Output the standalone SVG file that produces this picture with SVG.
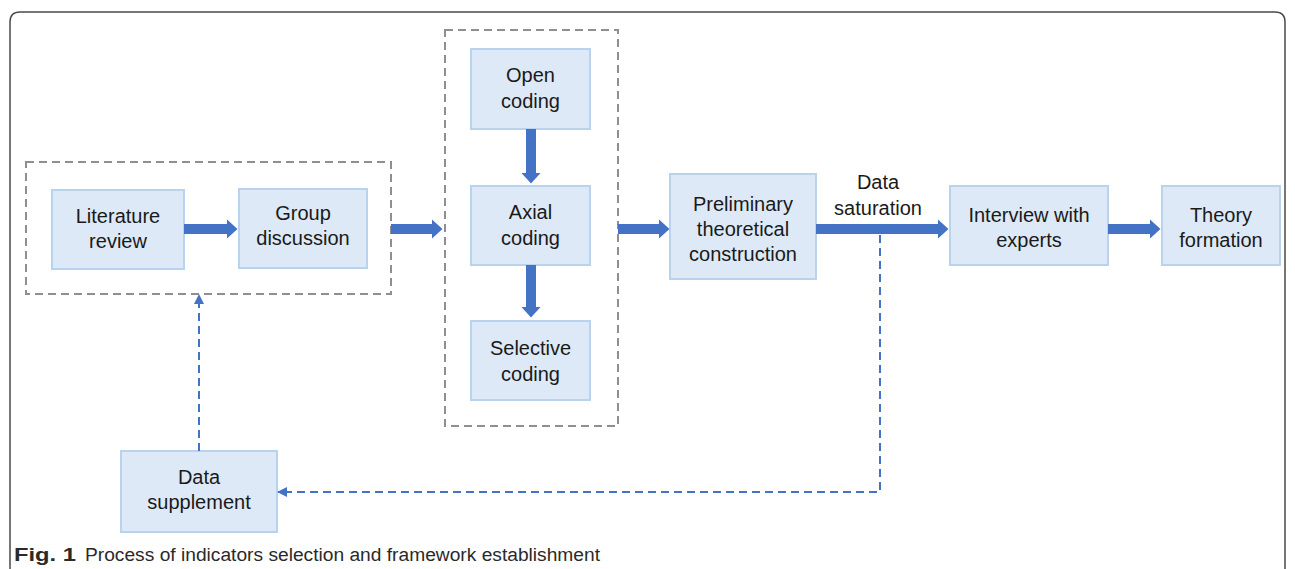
<svg xmlns="http://www.w3.org/2000/svg" width="1295" height="569" viewBox="0 0 1295 569">
<style>
.frame{fill:none;stroke:#4a4a4a;stroke-width:1.5}
.group{fill:none;stroke:#8f8f8f;stroke-width:2;stroke-dasharray:8 5}
.box{fill:#dde9f6;stroke:#b9d3ef;stroke-width:2}
.t{font-family:"Liberation Sans",Arial,sans-serif;font-size:20px;fill:#1a1a1a;text-anchor:middle}
.thick{stroke:#4472c4;stroke-width:10;fill:none}
.dash{stroke:#4472c4;stroke-width:2;fill:none;stroke-dasharray:8 5}
.cap{font-family:"Liberation Sans",Arial,sans-serif;font-size:18px;fill:#2a2a2a}
</style>
<defs>
<marker id="big" markerUnits="userSpaceOnUse" markerWidth="12" markerHeight="22" viewBox="0 0 12 22" refX="0.5" refY="11" orient="auto">
<path d="M0,1 L11,11 L0,21 Z" fill="#4472c4"/>
</marker>
<marker id="small" markerUnits="userSpaceOnUse" markerWidth="10" markerHeight="10" viewBox="0 0 10 10" refX="9" refY="5" orient="auto">
<path d="M0,0 L10,5 L0,10 Z" fill="#4472c4"/>
</marker>
</defs>
<rect width="1295" height="569" fill="#ffffff"/>
<path class="frame" d="M10,569 V22 Q10,12 20,12 H1275 Q1285,12 1285,22 V569"/>

<g id="group-left"><rect class="group" x="26" y="162" width="365" height="132"/></g>
<g id="group-coding"><rect class="group" x="445" y="30" width="173" height="396"/></g>

<g id="literature-review"><rect class="box" x="52" y="190" width="132" height="79"/>
<text class="t" x="118" y="222.5">Literature</text><text class="t" x="118" y="248">review</text></g>
<g id="group-discussion"><rect class="box" x="239" y="189" width="128" height="79"/>
<text class="t" x="303" y="219.5">Group</text><text class="t" x="303" y="245">discussion</text></g>
<g id="open-coding"><rect class="box" x="471" y="49" width="119" height="80"/>
<text class="t" x="530.5" y="82">Open</text><text class="t" x="530.5" y="108">coding</text></g>
<g id="axial-coding"><rect class="box" x="471" y="186" width="119" height="79"/>
<text class="t" x="530.5" y="218.5">Axial</text><text class="t" x="530.5" y="245">coding</text></g>
<g id="selective-coding"><rect class="box" x="471" y="321" width="119" height="79"/>
<text class="t" x="530.5" y="355">Selective</text><text class="t" x="530.5" y="381">coding</text></g>
<g id="preliminary"><rect class="box" x="670" y="174" width="146" height="105"/>
<text class="t" x="743" y="210.5">Preliminary</text><text class="t" x="743" y="236">theoretical</text><text class="t" x="743" y="260.5">construction</text></g>
<g id="interview"><rect class="box" x="950" y="186" width="158" height="79"/>
<text class="t" x="1029" y="222">Interview with</text><text class="t" x="1029" y="247">experts</text></g>
<g id="theory-formation"><rect class="box" x="1162" y="186" width="118" height="79"/>
<text class="t" x="1221" y="222">Theory</text><text class="t" x="1221" y="247">formation</text></g>
<g id="data-supplement"><rect class="box" x="121" y="451" width="156" height="81"/>
<text class="t" x="199" y="483.5">Data</text><text class="t" x="199" y="508.5">supplement</text></g>

<g id="connectors">
<line class="thick" x1="184" y1="229" x2="227" y2="229" marker-end="url(#big)"/>
<line class="thick" x1="391" y1="229" x2="432" y2="229" marker-end="url(#big)"/>
<line class="thick" x1="531" y1="129" x2="531" y2="173" marker-end="url(#big)"/>
<line class="thick" x1="531" y1="265" x2="531" y2="307" marker-end="url(#big)"/>
<line class="thick" x1="618" y1="229" x2="659" y2="229" marker-end="url(#big)"/>
<line class="thick" x1="816" y1="229" x2="938" y2="229" marker-end="url(#big)"/>
<line class="thick" x1="1108" y1="229" x2="1150" y2="229" marker-end="url(#big)"/>
<path class="dash" d="M880,235 V492 H278" marker-end="url(#small)"/>
<path class="dash" d="M199,451 V295" marker-end="url(#small)"/>
<text class="t" x="878" y="189">Data</text>
<text class="t" x="878" y="215">saturation</text>
</g>

<g id="caption">
<text class="cap" x="14" y="561"><tspan font-weight="bold" textLength="62" lengthAdjust="spacingAndGlyphs">Fig. 1</tspan></text>
<text class="cap" x="85" y="561" textLength="515" lengthAdjust="spacingAndGlyphs">Process of indicators selection and framework establishment</text>
</g>
</svg>
